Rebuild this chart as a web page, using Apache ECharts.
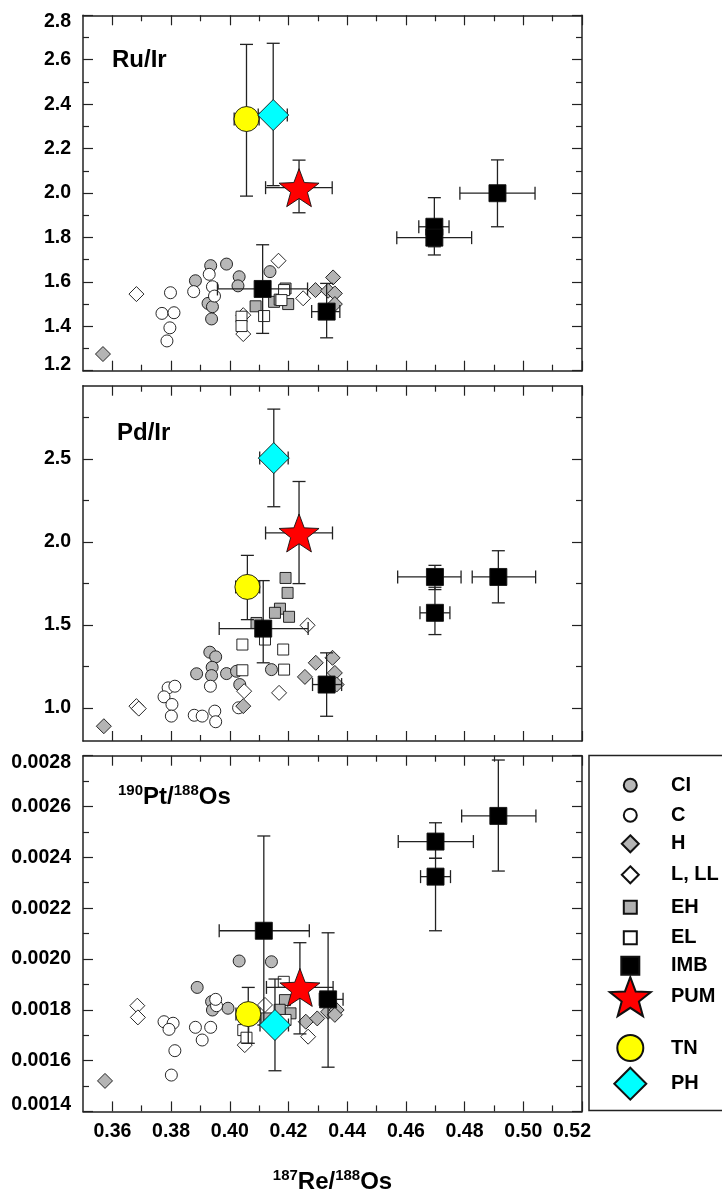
<!DOCTYPE html>
<html>
<head>
<meta charset="utf-8">
<script src="https://cdn.jsdelivr.net/npm/echarts@6/dist/echarts.min.js"></script>
<style>
	html, body { margin: 0; padding: 0; background: #fff; }
	#chart { width: 722px; height: 1190px; }
</style>
</head>
<body>
<div id="chart"></div>
<script>
// x = 187Re/188Os ; points with bars are [x, y, xLow, xHigh, yLow, yHigh]

// --- Ru/Ir panel
var CI_ru = [[0.3883,1.605],[0.3935,1.673],[0.3989,1.680],[0.4032,1.623],[0.4028,1.582],[0.3926,1.503],[0.3941,1.488],[0.3938,1.433],[0.4137,1.646]];
var C_ru = [[0.3798,1.551],[0.3769,1.458],[0.3810,1.461],[0.3796,1.393],[0.3786,1.334],[0.3877,1.556],[0.3930,1.634],[0.3941,1.578],[0.3948,1.536]];
var H_ru = [[0.3568,1.275],[0.4292,1.563],[0.4335,1.560],[0.4352,1.620],[0.4358,1.548],[0.4358,1.500]];
var L_ru = [[0.3682,1.545],[0.4166,1.695],[0.4046,1.365],[0.4046,1.450],[0.4250,1.526]];
var EH_ru = [[0.4088,1.49],[0.4151,1.51],[0.4199,1.50],[0.4190,1.57],[0.4170,1.52]];
var EL_ru = [[0.4040,1.443],[0.4040,1.401],[0.4117,1.446],[0.4185,1.563],[0.4176,1.518]];
var IMB_ru = [[0.4112,1.568,0.3958,0.4265,1.368,1.767],[0.4330,1.466,0.4279,0.4375,1.348,1.593],[0.4697,1.848,0.4644,0.4747,1.758,1.979],[0.4697,1.799,0.4569,0.4824,1.721,1.88],[0.4912,1.999,0.4784,0.5040,1.848,2.149]];
var PUM_ru = [[0.4236,2.024,0.4122,0.4349,1.911,2.148]];
var TN_ru = [[0.4057,2.333,0.4015,0.4100,1.986,2.669]];
var PH_ru = [[0.4148,2.351,0.4097,0.4196,2.033,2.674]];

// --- Pd/Ir panel
var CI_pd = [[0.3932,1.335],[0.3952,1.307],[0.3887,1.205],[0.3940,1.244],[0.3938,1.194],[0.3989,1.206],[0.4034,1.140],[0.4142,1.230],[0.4023,1.220]];
var C_pd = [[0.3790,1.120],[0.3813,1.130],[0.3776,1.066],[0.3803,1.020],[0.3801,0.950],[0.3879,0.955],[0.3906,0.950],[0.3949,0.980],[0.3952,0.916],[0.3934,1.130],[0.4030,1.000]];
var H_pd = [[0.3571,0.889],[0.4046,1.010],[0.4293,1.271],[0.4350,1.301],[0.4256,1.186],[0.4358,1.210],[0.4364,1.140]];
var L_pd = [[0.3682,1.010],[0.3690,0.995],[0.4049,1.100],[0.4168,1.090],[0.4265,1.497]];
var EH_pd = [[0.4190,1.782],[0.4197,1.692],[0.4171,1.597],[0.4154,1.572],[0.4202,1.548],[0.4091,1.511]];
var EL_pd = [[0.4043,1.381],[0.4043,1.226],[0.4182,1.351],[0.4185,1.230],[0.4120,1.411]];
var IMB_pd = [[0.4114,1.477,0.3964,0.4267,1.271,1.766],[0.4330,1.140,0.4282,0.4381,0.949,1.331],[0.4699,1.788,0.4572,0.4788,1.712,1.858],[0.4699,1.572,0.4648,0.4750,1.441,1.726],[0.4915,1.788,0.4826,0.5042,1.632,1.946]];
var PUM_pd = [[0.4236,2.053,0.4122,0.4350,1.748,2.363]];
var TN_pd = [[0.4060,1.728,0.4020,0.4102,1.531,1.918]];
var PH_pd = [[0.4150,2.504,0.4102,0.4199,2.211,2.799]];

// --- 190Pt/188Os panel
var CI_pt = [[0.4032,0.001992],[0.4142,0.001989],[0.3889,0.001888],[0.3994,0.001806],[0.3938,0.001832],[0.3941,0.001799]];
var C_pt = [[0.3776,0.001753],[0.3807,0.001747],[0.3793,0.001723],[0.3813,0.001639],[0.3801,0.001543],[0.3883,0.001731],[0.3906,0.001681],[0.3935,0.001731],[0.3955,0.001816],[0.3952,0.001841]];
var H_pt = [[0.3575,0.00152],[0.4259,0.001753],[0.4298,0.001766],[0.4335,0.001792],[0.4364,0.001799],[0.4358,0.00178]];
var L_pt = [[0.3685,0.001816],[0.3687,0.001770],[0.4267,0.001694],[0.4051,0.001661],[0.4120,0.001819]];
var EH_pt = [[0.4188,0.001838],[0.4207,0.001786],[0.4170,0.0018],[0.4125,0.001766]];
var EL_pt = [[0.4184,0.00191],[0.4046,0.00172],[0.4057,0.00169],[0.4190,0.00176]];
var IMB_pt = [[0.4116,0.002111,0.3964,0.4271,0.00174,0.002484],[0.4335,0.001841,0.4305,0.4386,0.001574,0.002103],[0.4701,0.002462,0.4574,0.4830,0.002396,0.002536],[0.4701,0.002324,0.4650,0.4752,0.002111,0.002396],[0.4915,0.002563,0.4790,0.5043,0.002346,0.002783]];
var PUM_pt = [[0.4239,0.001888,0.4125,0.4352,0.001705,0.002064]];
var TN_pt = [[0.4063,0.001783,0.4021,0.4103,0.001668,0.001888]];
var PH_pt = [[0.4154,0.00174,0.4103,0.4200,0.00156,0.001921]];

// tick values
var xMajor = [0.36,0.38,0.40,0.42,0.44,0.46,0.48,0.50,0.52];
var xMinor = [0.37,0.39,0.41,0.43,0.45,0.47,0.49,0.51];
var ruMajor = [1.2,1.4,1.6,1.8,2.0,2.2,2.4,2.6,2.8];
var ruMinor = [1.3,1.5,1.7,1.9,2.1,2.3,2.5,2.7];
var pdMajor = [1.0,1.5,2.0,2.5];
var pdMinor = [1.25,1.75,2.25,2.75];
var ptMajor = [0.0014,0.0016,0.0018,0.0020,0.0022,0.0024,0.0026,0.0028];
var ptMinor = [0.0015,0.0017,0.0019,0.0021,0.0023,0.0025,0.0027];

var groups = ['CI','C','H','L, LL','EH','EL','IMB','PUM','TN','PH'];
var withBars = ['IMB','PUM','TN','PH'];

function starPath(r1, r2) {
	var d = '';
	for (var i = 0; i < 10; i++) {
		var r = i % 2 ? r2 : r1;
		var a = Math.PI / 2 + i * Math.PI / 5;
		d += (i ? 'L' : 'M') + (50 + r * Math.cos(a)).toFixed(2) + ',' + (50 - r * Math.sin(a)).toFixed(2);
	}
	return 'path://' + d + 'Z';
}
var star = starPath(50, 21);

var looks = {
	'CI': {symbol: 'circle', size: 12, color: '#b8b8b8', z: 2},
	'C': {symbol: 'circle', size: 12, color: '#ffffff', z: 2},
	'H': {symbol: 'diamond', size: 15, color: '#b4b4b4', z: 2},
	'L, LL': {symbol: 'diamond', size: 15, color: '#ffffff', z: 2},
	'EH': {symbol: 'rect', size: 11, color: '#b0b0b0', z: 2},
	'EL': {symbol: 'rect', size: 11, color: '#ffffff', z: 2},
	'IMB': {symbol: 'rect', size: 17, color: '#000000', z: 4},
	'PUM': {symbol: star, size: [40, 38], color: '#ff0000', z: 5},
	'TN': {symbol: 'circle', size: 25, color: '#ffff00', z: 5},
	'PH': {symbol: 'diamond', size: 31, color: '#00ffff', z: 5}
};

var panelData = [
	{'CI': CI_ru, 'C': C_ru, 'H': H_ru, 'L, LL': L_ru, 'EH': EH_ru, 'EL': EL_ru, 'IMB': IMB_ru, 'PUM': PUM_ru, 'TN': TN_ru, 'PH': PH_ru},
	{'CI': CI_pd, 'C': C_pd, 'H': H_pd, 'L, LL': L_pd, 'EH': EH_pd, 'EL': EL_pd, 'IMB': IMB_pd, 'PUM': PUM_pd, 'TN': TN_pd, 'PH': PH_pd},
	{'CI': CI_pt, 'C': C_pt, 'H': H_pt, 'L, LL': L_pt, 'EH': EH_pt, 'EL': EL_pt, 'IMB': IMB_pt, 'PUM': PUM_pt, 'TN': TN_pt, 'PH': PH_pt}
];

var panels = [
	{top: 15.3, height: 355.4, min: 1.2, max: 2.8, major: ruMajor, minor: ruMinor, digits: 1},
	{top: 385.7, height: 355.3, min: 0.8, max: 2.94, major: pdMajor, minor: pdMinor, digits: 1},
	{top: 755.7, height: 355.7, min: 0.0014, max: 0.0028, major: ptMajor, minor: ptMinor, digits: 4}
];

var font = 'Liberation Sans, Arial, sans-serif';
var frame = {color: '#222', width: 1.5};

function near(a, b) { return Math.abs(a - b) < 1e-9; }

var grids = [], xAxes = [], yAxes = [], series = [];

panels.forEach(function (p, i) {
	grids.push({left: 83, top: p.top, width: 499, height: p.height, outerBoundsMode: 'none'});

	['bottom', 'top'].forEach(function (pos) {
		[true, false].forEach(function (isMajor) {
			var showLab = isMajor && pos === 'bottom' && i === 2;
			var ax = {
				gridIndex: i, type: 'value', position: pos, min: 0.35, max: 0.52,
				axisLine: {show: isMajor, onZero: false, lineStyle: frame},
				axisTick: {show: true, inside: true, length: isMajor ? 10 : 6, customValues: isMajor ? xMajor : xMinor, lineStyle: {color: '#222', width: 1.2}},
				axisLabel: {
					show: showLab, customValues: xMajor, margin: 10,
					fontFamily: font, fontWeight: 'bold', fontSize: 19.5, color: '#000',
					formatter: function (v) { return near(v, 0.52) ? '{e|0.52}' : v.toFixed(2); },
					rich: {e: {fontFamily: font, fontWeight: 'bold', fontSize: 19.5, color: '#000', padding: [0, 20, 0, 0]}}
				},
				splitLine: {show: false}
			};
			if (showLab) {
				ax.name = '{s|187}{b|Re/}{s|188}{b|Os}';
				ax.nameLocation = 'middle';
				ax.nameGap = 57;
				ax.nameTextStyle = {
					rich: {
						s: {fontFamily: font, fontWeight: 'bold', fontSize: 15, color: '#000', verticalAlign: 'top', lineHeight: 16},
						b: {fontFamily: font, fontWeight: 'bold', fontSize: 24, color: '#000', lineHeight: 28}
					}
				};
			}
			xAxes.push(ax);
		});
	});

	['left', 'right'].forEach(function (pos) {
		[true, false].forEach(function (isMajor) {
			var showLab = isMajor && pos === 'left';
			yAxes.push({
				gridIndex: i, type: 'value', position: pos, min: p.min, max: p.max,
				axisLine: {show: isMajor, onZero: false, lineStyle: frame},
				axisTick: {show: true, inside: true, length: isMajor ? 10 : 6, customValues: isMajor ? p.major : p.minor, lineStyle: {color: '#222', width: 1.2}},
				axisLabel: {
					show: showLab, customValues: p.major, margin: 12,
					fontFamily: font, fontWeight: 'bold', fontSize: 19.5, color: '#000',
					formatter: function (v) {
						var s = v.toFixed(p.digits);
						if (near(v, p.max)) return '{d|' + s + '}';
						if (near(v, p.min)) return '{u|' + s + '}';
						return s;
					},
					rich: {
						d: {fontFamily: font, fontWeight: 'bold', fontSize: 19.5, color: '#000', padding: [13, 0, 0, 0]},
						u: {fontFamily: font, fontWeight: 'bold', fontSize: 19.5, color: '#000', padding: [0, 0, 13, 0]}
					}
				},
				splitLine: {show: false}
			});
		});
	});

	groups.forEach(function (g) {
		var lk = looks[g];
		var rows = panelData[i][g];
		series.push({
			name: g, type: 'scatter', xAxisIndex: 4 * i, yAxisIndex: 4 * i,
			symbol: lk.symbol, symbolSize: lk.size, z: lk.z,
			itemStyle: {color: lk.color, borderColor: '#111', borderWidth: 0.9, opacity: 1},
			data: rows.map(function (r) { return [r[0], r[1]]; })
		});
		if (withBars.indexOf(g) >= 0) {
			series.push({
				name: g, type: 'custom', xAxisIndex: 4 * i, yAxisIndex: 4 * i, z: 3,
				encode: {x: 0, y: 1},
				data: rows,
				renderItem: function (params, api) {
					var x = api.value(0), y = api.value(1);
					var a = api.coord([api.value(2), y]), b = api.coord([api.value(3), y]);
					var c = api.coord([x, api.value(4)]), d = api.coord([x, api.value(5)]);
					var cap = 6.5;
					var st = {stroke: '#222', lineWidth: 1.3};
					function ln(x1, y1, x2, y2) { return {type: 'line', shape: {x1: x1, y1: y1, x2: x2, y2: y2}, style: st}; }
					return {type: 'group', children: [
						ln(a[0], a[1], b[0], b[1]),
						ln(a[0], a[1] - cap, a[0], a[1] + cap),
						ln(b[0], b[1] - cap, b[0], b[1] + cap),
						ln(c[0], c[1], d[0], d[1]),
						ln(c[0] - cap, c[1], c[0] + cap, c[1]),
						ln(d[0] - cap, d[1], d[0] + cap, d[1])
					]};
				}
			});
		}
	});
});

// legend rows: name, icon width, icon height, centre y
var legendRows = [
	['CI', 13, 13, 781.7], ['C', 13, 13, 811.7], ['H', 17, 17, 842.3], ['L, LL', 17, 17, 873.3],
	['EH', 13, 13, 903.7], ['EL', 13, 13, 934.3], ['IMB', 18, 18, 964.7], ['PUM', 41, 39, 995.7],
	['TN', 26, 26, 1047], ['PH', 32, 32, 1082.7]
];
var legends = legendRows.map(function (r) {
	return {
		orient: 'vertical', padding: 0,
		left: 629.3 - r[1] / 2, top: r[3] - r[2] / 2,
		itemWidth: r[1], itemHeight: r[2],
		data: [{name: r[0], icon: looks[r[0]].symbol}],
		textStyle: {fontFamily: font, fontWeight: 'bold', fontSize: 20, color: '#000', padding: [0, 0, 0, 35.7 - r[1] / 2]}
	};
});

var titles = [
	{text: 'Ru/Ir', left: 112, top: 46},
	{text: 'Pd/Ir', left: 117, top: 419},
	{text: '{s|190}{b|Pt/}{s|188}{b|Os}', left: 118, top: 783}
].map(function (t) {
	t.padding = 0;
	t.textStyle = {
		fontFamily: font, fontWeight: 'bold', fontSize: 24, color: '#000', lineHeight: 28,
		rich: {
			s: {fontFamily: font, fontWeight: 'bold', fontSize: 15, color: '#000', verticalAlign: 'top', lineHeight: 16},
			b: {fontFamily: font, fontWeight: 'bold', fontSize: 24, color: '#000', lineHeight: 28}
		}
	};
	return t;
});

var chart = echarts.init(document.getElementById('chart'), null, {renderer: 'canvas'});
chart.setOption({
	animation: false,
	backgroundColor: '#fff',
	title: titles,
	grid: grids,
	xAxis: xAxes,
	yAxis: yAxes,
	legend: legends,
	graphic: [{
		type: 'rect', shape: {x: 589, y: 755.5, width: 140, height: 355},
		style: {fill: 'none', stroke: '#222', lineWidth: 1.5}, silent: true
	}],
	series: series
});
</script>
</body>
</html>
